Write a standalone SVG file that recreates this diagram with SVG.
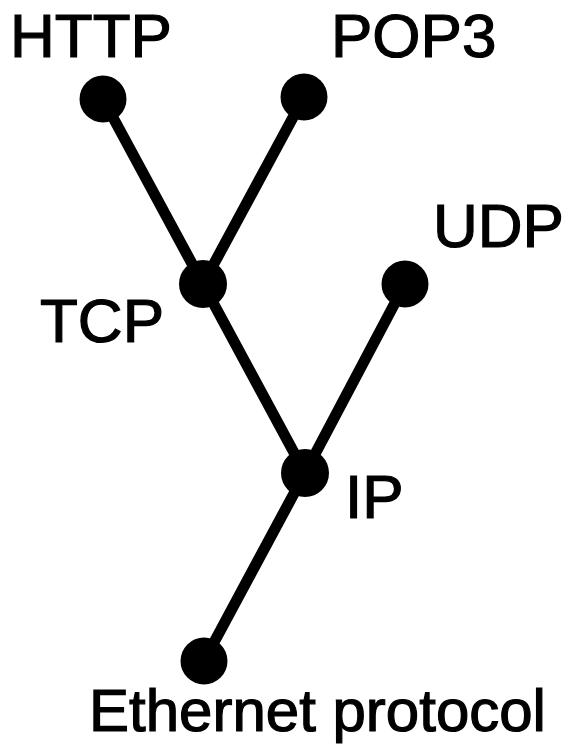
<svg xmlns="http://www.w3.org/2000/svg" width="563" height="747" viewBox="0 0 563 747">
<style>
.edge{stroke:#000;stroke-width:11;stroke-linecap:round;fill:none}
.dot{fill:#000}
.lbl{font-family:"Liberation Sans",Arial,sans-serif;font-size:62px;fill:#000;stroke:#000;stroke-width:1.2}
</style>
<rect width="563" height="747" fill="#fff"/>
<g id="connectors">
<line class="edge" x1="103" y1="99" x2="203" y2="284"/>
<line class="edge" x1="304" y1="97" x2="203" y2="284"/>
<line class="edge" x1="203" y1="284" x2="305" y2="473"/>
<line class="edge" x1="405" y1="284" x2="305" y2="473"/>
<line class="edge" x1="305" y1="473" x2="204" y2="661"/>
</g>
<g id="http"><circle class="dot" cx="103" cy="99" r="23.5"/><text class="lbl" x="10" y="57">HTTP</text></g>
<g id="pop3"><circle class="dot" cx="304" cy="97" r="23.5"/><text class="lbl" x="331" y="57">POP3</text></g>
<g id="tcp"><circle class="dot" cx="203" cy="284" r="24"/><text class="lbl" x="40" y="342">TCP</text></g>
<g id="udp"><circle class="dot" cx="405" cy="284" r="23.5"/><text class="lbl" x="433" y="247">UDP</text></g>
<g id="ip"><circle class="dot" cx="305" cy="473" r="24"/><text class="lbl" x="345" y="518">IP</text></g>
<g id="ethernet"><circle class="dot" cx="204" cy="661" r="23.5"/><text class="lbl" x="89" y="731" style="font-size:60px">Ethernet protocol</text></g>
</svg>
